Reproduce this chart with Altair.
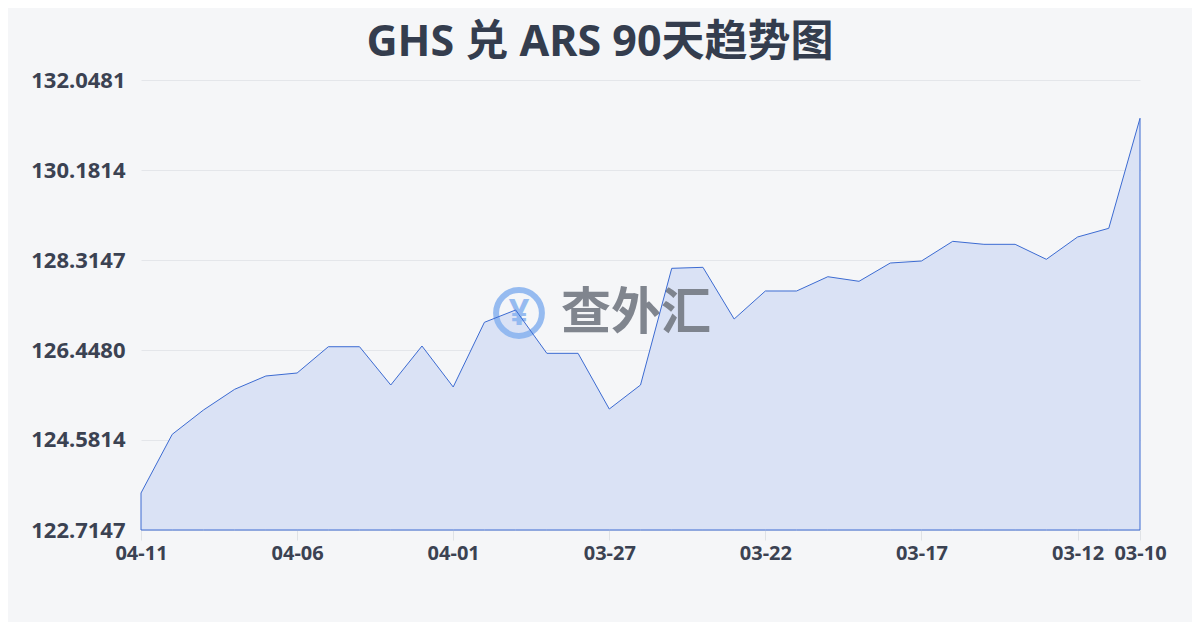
import altair as alt
import pandas as pd

dates = ["04-11", "04-10", "04-09", "04-08", "04-07", "04-06", "04-05", "04-04", "04-03", "04-02",
         "04-01", "03-31", "03-30", "03-29", "03-28", "03-27", "03-26", "03-25", "03-24", "03-23",
         "03-22", "03-21", "03-20", "03-19", "03-18", "03-17", "03-16", "03-15", "03-14", "03-13",
         "03-12", "03-11", "03-10"]
rates = [123.482, 124.699, 125.203, 125.633, 125.909, 125.971, 126.516, 126.516, 125.722, 126.531,
         125.681, 127.022, 127.278, 126.379, 126.379, 125.224, 125.722, 128.142, 128.163, 127.091,
         127.672, 127.672, 127.968, 127.873, 128.252, 128.294, 128.702, 128.640, 128.640, 128.329,
         128.792, 128.972, 131.254]
y_ticks = [122.7147, 124.5814, 126.4480, 128.3147, 130.1814, 132.0481]
x_labels = ["04-11", "04-06", "04-01", "03-27", "03-22", "03-17", "03-12", "03-10"]
title_text = "GHS 兑 ARS 90天趋势图"
watermark = "查外汇"

df = pd.DataFrame({"date": dates, "rate": rates})

FONT = "Noto Sans"
MIXED = "Noto Sans, Noto Sans CJK SC"
CJK = "Noto Sans CJK SC"

x_enc = alt.X("date:O", sort=None,
              scale=alt.Scale(type="point", padding=0),
              axis=alt.Axis(values=x_labels, title=None, labelAngle=0, grid=False, domain=False,
                            ticks=True, tickSize=10, tickColor="#dfe2e6",
                            labelFont=FONT, labelFontSize=20, labelFontWeight="bold",
                            labelColor="#3b4252", labelPadding=3, labelOverlap=False))
y_enc = alt.Y("rate:Q", stack=None,
              scale=alt.Scale(domain=[y_ticks[0], y_ticks[-1]], nice=False, zero=False),
              axis=alt.Axis(values=y_ticks, format=".4f", title=None, grid=True,
                            gridColor="#e4e6ea", domain=False, ticks=False,
                            labelFont=FONT, labelFontSize=22, labelFontWeight="bold",
                            labelColor="#3b4252", labelPadding=16))
y2_enc = alt.Y2(datum=y_ticks[0])

base = alt.Chart(df)
fill = base.mark_area(color="#dae2f5", opacity=1).encode(x=x_enc, y=y_enc, y2=y2_enc)

one = alt.Chart(pd.DataFrame({"k": [0]}))
ring = one.mark_point(shape="circle", filled=False, size=2100, strokeWidth=6,
                      color="#8cb5f0", opacity=0.9).encode(x=alt.value(378), y=alt.value(233))
yen = one.mark_text(text="¥", font=FONT, fontSize=36, fontWeight="bold",
                    color="#8cb5f0", opacity=0.9).encode(x=alt.value(378), y=alt.value(234))
wm = one.mark_text(text=watermark, font=CJK, fontSize=50, fontWeight="bold",
                   color="#7a7f89", opacity=0.95).encode(x=alt.value(495), y=alt.value(234))

outline = base.mark_area(fillOpacity=0, stroke="#3c6bd2", strokeWidth=1).encode(
    x=x_enc, y=y_enc, y2=y2_enc)

title = one.mark_text(text=title_text, font=MIXED, fontSize=43, fontWeight="bold",
                      color="#343d4e").encode(x=alt.value(459), y=alt.value(-37))

chart = alt.layer(fill, ring, yen, wm, outline, title).properties(
    width=999, height=450,
    autosize=alt.AutoSizeParams(type="none"),
    padding={"left": 133, "top": 72, "right": 52, "bottom": 92},
    background="#f5f6f8",
).configure_view(stroke=None)

chart.save("out.html", embed_options={"renderer": "svg", "actions": False})
